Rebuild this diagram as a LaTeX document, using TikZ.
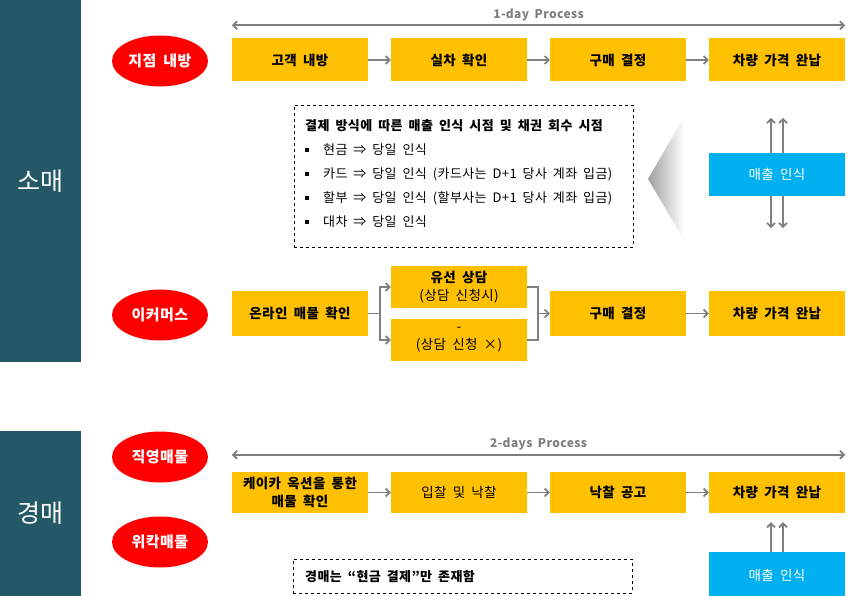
\documentclass[tikz,border=0pt]{standalone}
\usepackage{fontspec}
\setmainfont{Noto Sans CJK KR}[WordSpace=1.8, LetterSpace=3]
\usetikzlibrary{shapes, arrows.meta}

\definecolor{barteal}{HTML}{245866}
\definecolor{stepyellow}{HTML}{FFC000}
\definecolor{salesblue}{HTML}{00B0F0}
\definecolor{linegray}{HTML}{7F7F7F}

\tikzset{
  bar/.style={fill=barteal, minimum width=81pt, inner sep=0pt, text=white, font=\fontsize{25}{28}\selectfont},
  channel/.style={ellipse, fill=red, minimum width=96pt, minimum height=51pt, inner sep=0pt, text=white, font=\fontsize{15}{17}\selectfont\bfseries},
  stepbox/.style={fill=stepyellow, minimum width=136pt, minimum height=43pt, inner sep=0pt, align=center, font=\fontsize{13.5}{15}\selectfont\bfseries},
  salesbox/.style={fill=salesblue, minimum width=136pt, minimum height=43pt, inner sep=0pt, text=white, font=\fontsize{13.5}{15}\selectfont},
  notebox/.style={draw, dashed, line width=0.6pt, inner sep=0pt, anchor=north west, minimum width=339pt},
  flow/.style={draw=linegray, line width=1.8pt, -{Straight Barb[length=4pt, width=8pt]}},
  joint/.style={draw=linegray, line width=1.8pt},
  span/.style={draw=linegray, line width=1.8pt, {Straight Barb[length=4pt, width=8pt]}-{Straight Barb[length=4pt, width=8pt]}},
  spanlabel/.style={text=linegray, font=\fontsize{12}{14}\selectfont\bfseries}
}
\newcommand{\sqbullet}{\rule[3pt]{4pt}{4pt}\hspace{14pt}}

\begin{document}
\begin{tikzpicture}[x=1pt, y=-1pt]
  \useasboundingbox (0,0) rectangle (853,596);

  % left bars
  \node[bar, minimum height=362pt] (retail) at (40.5,181) {소매};
  \node[bar, minimum height=165pt] (auction) at (40.5,513.5) {경매};

  % retail: branch visit
  \node[channel] (branch) at (160,61) {지점 내방};
  \node[stepbox] (visit) at (300,60) {고객 내방};
  \node[stepbox] (check) at (459,60) {실차 확인};
  \node[stepbox] (decide) at (618,60) {구매 결정};
  \node[stepbox] (pay) at (777,60) {차량 가격 완납};
  \draw[flow] (visit.east) -- (check.west);
  \draw[flow] (check.east) -- (decide.west);
  \draw[flow] (decide.east) -- (pay.west);
  \draw[span] ([yshift=13pt]visit.north west) -- ([yshift=13pt]pay.north east)
    node[spanlabel, midway, above=0pt] (oneday) {1-day Process};

  % payment note
  \node[notebox, minimum height=142pt] (paynote) at (294,105) {};
  \node[anchor=west, align=left, inner sep=0pt, font=\fontsize{13}{24}\selectfont] (paytext) at (305,174)
    {\textbf{결제 방식에 따른 매출 인식 시점 및 채권 회수 시점}\\
     \sqbullet 현금 ⇒ 당일 인식\\
     \sqbullet 카드 ⇒ 당일 인식 (카드사는 D+1 당사 계좌 입금)\\
     \sqbullet 할부 ⇒ 당일 인식 (할부사는 D+1 당사 계좌 입금)\\
     \sqbullet 대차 ⇒ 당일 인식};
  \shade[left color=linegray!75, right color=white] (648,179) -- (684,117) -- (684,240) -- cycle;

  \node[salesbox] (sales) at (777,174.5) {매출 인식};
  \draw[flow] ([xshift=-6pt]sales.north) -- ++(0,-35);
  \draw[flow] ([xshift=6pt]sales.north) -- ++(0,-35);
  \draw[flow] ([xshift=-6pt]sales.south) -- ++(0,32);
  \draw[flow] ([xshift=6pt]sales.south) -- ++(0,32);

  % retail: e-commerce
  \node[channel] (ecom) at (160,315) {이커머스};
  \node[stepbox, minimum height=45pt] (online) at (300,313.5) {온라인 매물 확인};
  \node[stepbox, minimum height=42pt] (phone) at (459,287) {유선 상담\\[3pt]\mdseries (상담 신청시)};
  \node[stepbox, minimum height=42pt, font=\fontsize{13.5}{15}\selectfont] (nophone) at (459,340) {-\\[3pt](상담 신청 ×)};
  \node[stepbox, minimum height=45pt] (decide2) at (618,313.5) {구매 결정};
  \node[stepbox, minimum height=45pt] (pay2) at (777,313.5) {차량 가격 완납};
  \coordinate (fork) at (380,313.5);
  \coordinate (merge) at (538,313.5);
  \draw[joint] (online.east) -- (fork);
  \draw[flow] (fork) |- (phone.west);
  \draw[flow] (fork) |- (nophone.west);
  \draw[joint] (phone.east) -| (merge) |- (nophone.east);
  \draw[flow] (merge) -- (decide2.west);
  \draw[flow] (decide2.east) -- (pay2.west);

  % auction
  \node[channel] (direct) at (160,457) {직영매물};
  \node[channel] (consign) at (160,542) {위칵매물};
  \node[stepbox, minimum height=41pt] (kcar) at (300,492.5) {케이카 옥션을 통한\\[3pt]매물 확인};
  \node[stepbox, minimum height=41pt, font=\fontsize{13.5}{15}\selectfont] (bid) at (459,492.5) {입찰 및 낙찰};
  \node[stepbox, minimum height=41pt] (notice) at (618,492.5) {낙찰 공고};
  \node[stepbox, minimum height=41pt] (pay3) at (777,492.5) {차량 가격 완납};
  \draw[flow] (kcar.east) -- (bid.west);
  \draw[flow] (bid.east) -- (notice.west);
  \draw[flow] (notice.east) -- (pay3.west);
  \draw[span] ([yshift=17pt]kcar.north west) -- ([yshift=17pt]pay3.north east)
    node[spanlabel, midway, above=0pt] (twoday) {2-days Process};

  \node[notebox, minimum height=34pt] (cashnote) at (293,559) {};
  \node[anchor=west, inner sep=0pt, font=\fontsize{13}{15}\selectfont\bfseries] (cashtext) at (305,577) {경매는 “현금 결제”만 존재함};

  \node[salesbox, minimum height=46pt] (sales2) at (777,575) {매출 인식};
  \draw[flow] ([xshift=-6pt]sales2.north) -- ([xshift=-6pt, yshift=-9pt]pay3.south);
  \draw[flow] ([xshift=6pt]sales2.north) -- ([xshift=6pt, yshift=-9pt]pay3.south);
\end{tikzpicture}
\end{document}
